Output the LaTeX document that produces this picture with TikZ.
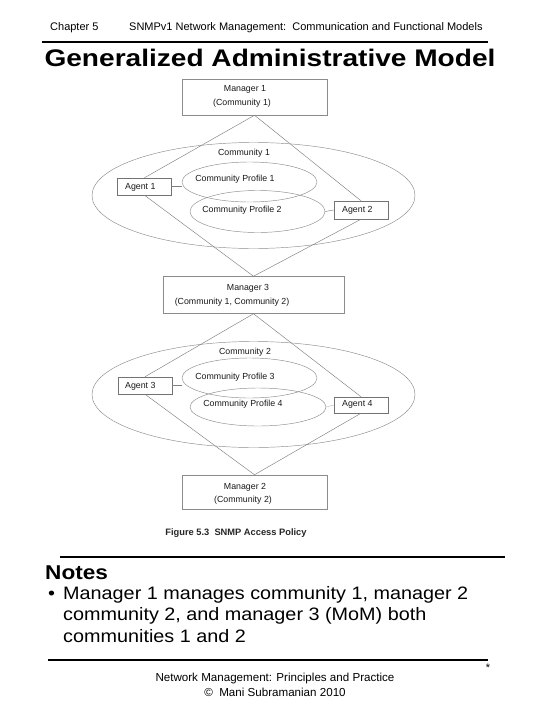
\documentclass[tikz,border=0pt]{standalone}
\usepackage{fontspec}
\setmainfont{Liberation Sans}
\usetikzlibrary{shapes.geometric}
\begin{document}
\begin{tikzpicture}[x=1pt,y=-1pt,
  mgr/.style={draw=black!45, line width=0.5pt, minimum width=145pt, minimum height=36pt, inner sep=0pt},
  agent/.style={draw=black!55, line width=0.5pt, minimum width=54pt, minimum height=17pt, inner sep=0pt},
  oval/.style={ellipse, draw=black!45, line width=0.45pt, inner sep=0pt},
  lbl/.style={font=\fontsize{8.8}{10}\selectfont, text=black!90, inner sep=0pt},
  albl/.style={lbl, anchor=west},
  link/.style={draw=black!50, line width=0.45pt},
  hdr/.style={font=\fontsize{11}{13}\selectfont, inner sep=0pt, anchor=base west},
  foot/.style={font=\fontsize{11.6}{13}\selectfont, inner sep=0pt, anchor=base},
  notetxt/.style={font=\fontsize{18}{21.5}\selectfont, inner sep=0pt, anchor=base west, xscale=1.1, transform shape},
  rulebar/.style={line width=2pt, black}
]
\useasboundingbox (0,0) rectangle (540,720);
\fill[white] (0,0) rectangle (540,720);

% header
\node[hdr] (chap) at (50,30.7) {Chapter 5};
\node[hdr] (sub) at (129,30.7) {SNMPv1 Network Management:\ \ Communication and Functional Models};
\draw[rulebar] (42,42) -- (488,42);
\node[font=\bfseries\fontsize{24}{28}\selectfont, inner sep=0pt, anchor=base, xscale=1.17, transform shape] (title) at (270,66) {Generalized Administrative Model};

% upper community
\node[oval, minimum width=323pt, minimum height=106pt] (c1) at (253.5,195.5) {};
\node[oval, minimum width=135pt, minimum height=40pt] (p1) at (249.5,182) {};
\node[oval, minimum width=135pt, minimum height=42pt] (p2) at (257.5,211.5) {};
\node[mgr] (m1) at (254.5,97) {};
\node[agent] (a1) at (144.5,186.5) {};
\node[agent, minimum height=18pt] (a2) at (361,210) {};
\node[mgr, minimum width=181pt, minimum height=37pt] (m3) at (253.5,295) {};

\node[lbl] (m1a) at (245,89) {Manager 1};
\node[lbl] (m1b) at (242,103) {(Community 1)};
\node[lbl] (c1t) at (244,153) {Community 1};
\node[lbl] (p1t) at (235,179) {Community Profile 1};
\node[lbl] (p2t) at (242,210.5) {Community Profile 2};
\node[albl] (a1t) at (125,187.5) {Agent 1};
\node[albl] (a2t) at (342,210.5) {Agent 2};
\node[lbl] (m3a) at (248,288) {Manager 3};
\node[lbl] (m3b) at (232,302) {(Community 1, Community 2)};

\draw[link] (m1.south) -- (a1.north);
\draw[link] (m1.south) -- (a2.north);
\draw[link] (a1.south) -- (m3.north);
\draw[link] (a2.south) -- (m3.north);
\draw[link] (a1.east) -- (a1.east -| p1.west);
\draw[link] (p2.east) -- (a2.west);

% lower community
\node[oval, minimum width=323pt, minimum height=106pt] (c2) at (253.5,394.5) {};
\node[oval, minimum width=135pt, minimum height=40pt] (p3) at (249.5,378) {};
\node[oval, minimum width=136pt, minimum height=38pt] (p4) at (258,407) {};
\node[agent] (a3) at (145,385.5) {};
\node[agent, minimum height=16pt] (a4) at (361,405) {};
\node[mgr, minimum height=34pt] (m2) at (254.5,492) {};

\node[lbl] (c2t) at (245,352.5) {Community 2};
\node[lbl] (p3t) at (235,377.5) {Community Profile 3};
\node[lbl] (p4t) at (243,404.5) {Community Profile 4};
\node[albl] (a3t) at (125,386.5) {Agent 3};
\node[albl] (a4t) at (342,404.5) {Agent 4};
\node[lbl] (m2a) at (245,487.5) {Manager 2};
\node[lbl] (m2b) at (243,500.5) {(Community 2)};

\draw[link] (m3.south) -- (a3.north);
\draw[link] (m3.south) -- (a4.north);
\draw[link] (a3.south) -- (m2.north);
\draw[link] (a4.south) -- (m2.north);
\draw[link] (a3.east) -- (a3.east -| p3.west);
\draw[link, draw=black!25] (p4.east) -- (a4.west);

\node[font=\bfseries\fontsize{9.3}{11}\selectfont, inner sep=0pt, text=black!85] (cap) at (236,533) {Figure 5.3\ \ SNMP Access Policy};

% notes
\draw[rulebar] (60,557) -- (505,557);
\node[font=\bfseries\fontsize{20}{24}\selectfont, inner sep=0pt, anchor=base west, xscale=1.13, transform shape] (notes) at (45,579) {Notes};
\node[notetxt] (bul) at (48,599) {\textbullet};
\node[notetxt] (n1) at (63,599) {Manager 1 manages community 1, manager 2};
\node[notetxt] (n2) at (63,620.5) {community 2, and manager 3 (MoM) both};
\node[notetxt] (n3) at (63,642) {communities 1 and 2};
\draw[rulebar] (48,660) -- (488,660);
\node[font=\fontsize{11}{13}\selectfont, inner sep=0pt] (star) at (488,668) {*};
\node[foot] (f1) at (275,681) {Network Management: Principles and Practice};
\node[foot] (f2) at (275,696) {\textcopyright\ \ Mani Subramanian 2010};
\end{tikzpicture}
\end{document}
